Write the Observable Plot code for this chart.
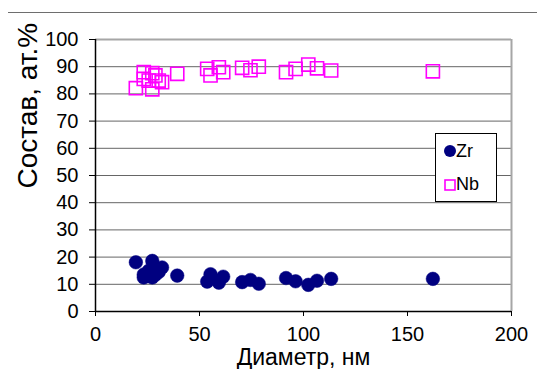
<!DOCTYPE html>
<html><head><meta charset="utf-8">
<script src="https://cdn.jsdelivr.net/npm/d3@7"></script>
<script src="https://cdn.jsdelivr.net/npm/@observablehq/plot@0.6"></script>
<style>
body{margin:0;background:#fff;}
#wrap{position:relative;width:537px;height:369px;font-family:Arial,"Liberation Sans",sans-serif;overflow:hidden;}
#topline{position:absolute;left:8px;top:12px;width:529px;height:1px;background:#6e6e6e;}
#legend{position:absolute;left:435px;top:133px;width:60px;height:67px;border:1.5px solid #000;background:#fff;}
.lg{position:absolute;font-size:18px;line-height:18px;color:#000;}
.mk{position:absolute;}
</style></head><body><div id="wrap"><div id="topline"></div></div>
<script>
// Diameter of each particle, nm
const diameters = [19.4, 23.2, 23.2, 25.6, 27.3, 27.3, 28.8, 30.4, 32.0, 39.3, 53.7, 55.3, 59.3, 61.4, 70.5, 74.5, 78.5, 91.6, 96.2, 102.3, 106.5, 113.3, 162.2];
// Composition, at.%
const zrValues = [18.1, 12.5, 13.6, 15.0, 18.6, 12.5, 13.5, 14.5, 16.2, 13.2, 11.0, 13.7, 10.6, 12.8, 10.8, 11.6, 10.2, 12.3, 11.1, 9.8, 11.3, 12.0, 12.0];
const nbValues = [82.1, 88.0, 85.5, 84.9, 81.7, 87.6, 86.8, 84.9, 84.3, 87.4, 89.2, 86.8, 89.8, 88.0, 89.6, 88.7, 90.0, 88.0, 89.2, 90.8, 89.4, 88.6, 88.3];
const seriesNames = ["Zr", "Nb"];
const xTicks = [0, 50, 100, 150, 200];
const yTicks = [0, 10, 20, 30, 40, 50, 60, 70, 80, 90, 100];
const xTitle = "Диаметр, нм";
const yTitle = "Состав, ат.%";

const zrData = diameters.map((d, i) => ({x: d, y: zrValues[i]}));
const nbData = diameters.map((d, i) => ({x: d, y: nbValues[i]}));

const zrColor = "#000080", nbColor = "#ff00ff";

const chart = Plot.plot({
  width: 537, height: 369,
  marginLeft: 95, marginRight: 26, marginTop: 39, marginBottom: 58,
  x: {domain: [0, 200]},
  y: {domain: [0, 100]},
  style: {fontFamily: 'Arial, "Liberation Sans", sans-serif', fontSize: "20px", color: "#000", background: "transparent"},
  marks: [
    Plot.gridY(yTicks.filter(d => d > 0 && d < 100), {stroke: "#666", strokeOpacity: 1, strokeWidth: 1}),
    Plot.ruleY([100], {stroke: "#a6a6a6", strokeWidth: 2}),
    Plot.ruleX([200], {stroke: "#a6a6a6", strokeWidth: 2}),
    Plot.axisY({ticks: yTicks, tickSize: 6, tickPadding: 11, fontSize: 20, label: null, stroke: "#000"}),
    Plot.axisX({ticks: xTicks, tickSize: 5, tickPadding: 10, fontSize: 20, label: null, stroke: "#000"}),
    Plot.ruleX([0], {stroke: "#000", strokeWidth: 1.5}),
    Plot.ruleY([0], {stroke: "#000", strokeWidth: 1.5}),
    Plot.dot(zrData, {x: "x", y: "y", r: 6.8, fill: zrColor, stroke: zrColor, strokeWidth: 0.5}),
    Plot.dot(nbData, {x: "x", y: "y", symbol: "square", r: 7.4, stroke: nbColor, strokeWidth: 1.6, fill: "none"}),
    Plot.text([xTitle], {frameAnchor: "bottom", dy: 53, fontSize: 23, text: d => d}),
    Plot.text([yTitle], {frameAnchor: "left", dx: -67, dy: 13, rotate: -90, fontSize: 28, text: d => d})
  ]
});
chart.querySelectorAll('g[aria-label$="tick label"]').forEach(g => {
  g.setAttribute("font-size", "20");
  g.style.fontSize = "20px";
  g.querySelectorAll("text").forEach(t => { t.style.fontSize = "20px"; });
});
chart.style.position = "absolute";
chart.style.left = "0px";
chart.style.top = "0px";
const wrap = document.getElementById("wrap");
wrap.insertBefore(chart, wrap.firstChild);

// Legend
const legend = document.createElement("div");
legend.id = "legend";
legend.innerHTML =
  `<svg class="mk" style="left:7px;top:10px" width="14" height="14"><circle cx="7" cy="7" r="6" fill="${zrColor}"/></svg>` +
  `<div class="lg" style="left:20px;top:8px">${seriesNames[0]}</div>` +
  `<svg class="mk" style="left:8px;top:45px" width="12" height="12"><rect x="1" y="1" width="10" height="10" fill="none" stroke="${nbColor}" stroke-width="1.6"/></svg>` +
  `<div class="lg" style="left:20px;top:41px">${seriesNames[1]}</div>`;
wrap.appendChild(legend);
</script></body></html>
